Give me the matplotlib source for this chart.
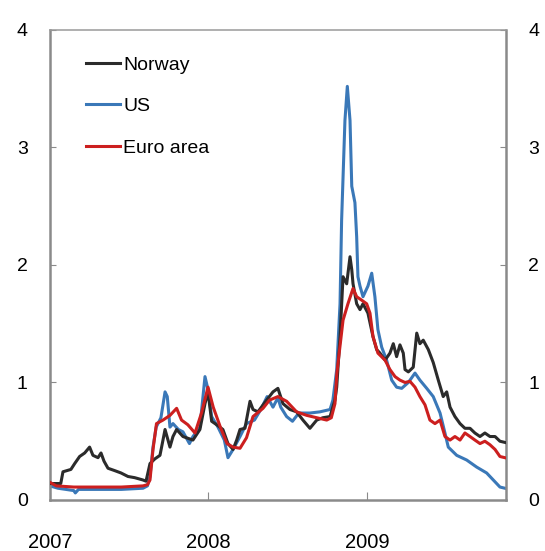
import matplotlib
matplotlib.use('Agg')
import matplotlib.pyplot as plt

plt.rcParams['font.family'] = ['Liberation Sans', 'DejaVu Sans']

# %%
# values, time as decimal years
norway_t = [2007.000, 2007.068, 2007.082, 2007.132, 2007.156, 2007.187, 2007.219, 2007.250,
            2007.271, 2007.303, 2007.322, 2007.341, 2007.366, 2007.408, 2007.448, 2007.492,
            2007.534, 2007.587, 2007.606, 2007.631, 2007.662, 2007.694, 2007.713, 2007.726,
            2007.757, 2007.776, 2007.799, 2007.839, 2007.902, 2007.946, 2007.978, 2007.997,
            2008.020, 2008.052, 2008.091, 2008.123, 2008.155, 2008.178, 2008.199, 2008.230,
            2008.262, 2008.281, 2008.312, 2008.367, 2008.407, 2008.438, 2008.470, 2008.514,
            2008.556, 2008.596, 2008.640, 2008.683, 2008.722, 2008.767, 2008.798, 2008.809,
            2008.830, 2008.849, 2008.872, 2008.893, 2008.904, 2008.912, 2008.935, 2008.956,
            2008.975, 2009.006, 2009.038, 2009.061, 2009.082, 2009.114, 2009.145, 2009.166,
            2009.187, 2009.208, 2009.229, 2009.240, 2009.261, 2009.292, 2009.314, 2009.334,
            2009.355, 2009.387, 2009.418, 2009.450, 2009.481, 2009.503, 2009.524, 2009.555,
            2009.587, 2009.618, 2009.650, 2009.681, 2009.713, 2009.744, 2009.776, 2009.808,
            2009.839, 2009.870]
norway = [0.14, 0.14, 0.24, 0.26, 0.31, 0.37, 0.40, 0.45,
          0.38, 0.36, 0.40, 0.33, 0.27, 0.25, 0.23, 0.20,
          0.19, 0.17, 0.16, 0.31, 0.35, 0.38, 0.51, 0.60,
          0.45, 0.54, 0.60, 0.54, 0.51, 0.60, 0.82, 0.92,
          0.67, 0.64, 0.60, 0.48, 0.43, 0.51, 0.60, 0.61,
          0.84, 0.77, 0.75, 0.85, 0.92, 0.95, 0.82, 0.77,
          0.75, 0.68, 0.61, 0.68, 0.70, 0.71, 0.85, 0.96,
          1.39, 1.90, 1.84, 2.07, 1.96, 1.84, 1.67, 1.62,
          1.67, 1.59, 1.39, 1.28, 1.25, 1.19, 1.25, 1.33,
          1.22, 1.32, 1.25, 1.11, 1.09, 1.13, 1.42, 1.33,
          1.36, 1.28, 1.17, 1.02, 0.88, 0.92, 0.79, 0.71,
          0.65, 0.61, 0.61, 0.57, 0.54, 0.57, 0.54, 0.54,
          0.50, 0.49]

us_t = [2007.000, 2007.050, 2007.150, 2007.160, 2007.180, 2007.300, 2007.450, 2007.587,
        2007.615, 2007.631, 2007.650, 2007.670, 2007.700, 2007.726, 2007.740, 2007.757,
        2007.776, 2007.810, 2007.839, 2007.880, 2007.902, 2007.946, 2007.978, 2007.997,
        2008.020, 2008.060, 2008.100, 2008.123, 2008.155, 2008.199, 2008.240, 2008.290,
        2008.330, 2008.370, 2008.407, 2008.438, 2008.456, 2008.493, 2008.530, 2008.570,
        2008.640, 2008.703, 2008.767, 2008.785, 2008.809, 2008.830, 2008.840, 2008.861,
        2008.876, 2008.893, 2008.904, 2008.924, 2008.935, 2008.943, 2008.956, 2008.975,
        2009.006, 2009.030, 2009.050, 2009.069, 2009.093, 2009.124, 2009.156, 2009.187,
        2009.219, 2009.261, 2009.303, 2009.334, 2009.377, 2009.418, 2009.461, 2009.492,
        2009.513, 2009.566, 2009.629, 2009.692, 2009.755, 2009.797, 2009.839, 2009.870]
us = [0.12, 0.10, 0.08, 0.06, 0.09, 0.09, 0.09, 0.10,
      0.12, 0.20, 0.45, 0.62, 0.70, 0.92, 0.88, 0.62,
      0.65, 0.60, 0.58, 0.48, 0.54, 0.62, 1.05, 0.94,
      0.71, 0.62, 0.51, 0.36, 0.43, 0.54, 0.65, 0.68,
      0.77, 0.88, 0.79, 0.87, 0.79, 0.71, 0.67, 0.74,
      0.74, 0.75, 0.77, 0.85, 1.11, 1.67, 2.38, 3.23,
      3.52, 3.23, 2.67, 2.53, 2.24, 1.90, 1.82, 1.73,
      1.82, 1.93, 1.73, 1.45, 1.30, 1.19, 1.02, 0.96,
      0.95, 1.00, 1.08, 1.02, 0.95, 0.88, 0.74, 0.57,
      0.45, 0.38, 0.34, 0.28, 0.23, 0.17, 0.11, 0.10]

euro_t = [2007.000, 2007.040, 2007.150, 2007.300, 2007.450, 2007.587, 2007.615, 2007.631,
          2007.650, 2007.672, 2007.713, 2007.757, 2007.799, 2007.830, 2007.870, 2007.915,
          2007.956, 2007.997, 2008.030, 2008.075, 2008.117, 2008.155, 2008.199, 2008.240,
          2008.281, 2008.344, 2008.385, 2008.438, 2008.493, 2008.556, 2008.620, 2008.683,
          2008.746, 2008.775, 2008.798, 2008.810, 2008.849, 2008.880, 2008.912, 2008.935,
          2008.967, 2008.998, 2009.019, 2009.038, 2009.069, 2009.114, 2009.145, 2009.177,
          2009.208, 2009.240, 2009.271, 2009.303, 2009.334, 2009.366, 2009.397, 2009.429,
          2009.461, 2009.492, 2009.524, 2009.555, 2009.587, 2009.618, 2009.650, 2009.681,
          2009.713, 2009.744, 2009.776, 2009.808, 2009.839, 2009.870]
euro = [0.15, 0.12, 0.11, 0.11, 0.11, 0.12, 0.13, 0.17,
        0.43, 0.65, 0.68, 0.72, 0.78, 0.68, 0.64, 0.57,
        0.74, 0.96, 0.79, 0.62, 0.48, 0.45, 0.44, 0.53,
        0.71, 0.78, 0.85, 0.88, 0.84, 0.75, 0.72, 0.70,
        0.68, 0.70, 0.82, 1.08, 1.53, 1.67, 1.80, 1.73,
        1.70, 1.67, 1.59, 1.39, 1.25, 1.19, 1.11, 1.05,
        1.02, 1.00, 1.01, 0.96, 0.88, 0.81, 0.68, 0.65,
        0.68, 0.54, 0.51, 0.54, 0.51, 0.57, 0.54, 0.51,
        0.48, 0.50, 0.47, 0.43, 0.37, 0.36]

year_ticks = [2007, 2008, 2009]
year_labels = ['2007', '2008', '2009']
y_ticks = [0, 1, 2, 3, 4]

# %%
fig = plt.figure(figsize=(5.45, 5.51), dpi=100)
ax = fig.add_axes([0.0917, 0.0926, 0.8367, 0.853])

ax.plot(us_t, us, color='#3a78b8', lw=2.2, label='US', zorder=2)
ax.plot(norway_t, norway, color='#2b2b2b', lw=2.2, label='Norway', zorder=3)
ax.plot(euro_t, euro, color='#cc1f1f', lw=2.2, label='Euro area', zorder=4)

ax.set_xlim(2007.0, 2009.877)
ax.set_ylim(0, 4)

ax.set_xticks(year_ticks)
ax.set_xticklabels(year_labels)
ax.set_yticks(y_ticks)

for side in ['left', 'right', 'bottom']:
    ax.spines[side].set_color('#8a8a8a')
    ax.spines[side].set_linewidth(1.8)
ax.spines['top'].set_color('#9a9a9a')
ax.spines['top'].set_linewidth(1.1)

ax.tick_params(axis='y', which='both', direction='in', length=4, width=0.8, color='#8a8a8a',
               left=True, right=True, labelleft=True, labelright=True, labelsize=14, pad=16)
ax.tick_params(axis='x', direction='in', length=6, width=0.8, color='#8a8a8a',
               labelsize=14.5, pad=24)

handles, labels = ax.get_legend_handles_labels()
order = [1, 0, 2]
ax.legend([handles[i] for i in order], [labels[i] for i in order],
          loc='upper left', bbox_to_anchor=(0.08, 0.944), frameon=False,
          fontsize=14, handlelength=1.75, handletextpad=0.15, labelspacing=1.22,
          borderpad=0, borderaxespad=0)

plt.savefig('out.png', dpi=100)
